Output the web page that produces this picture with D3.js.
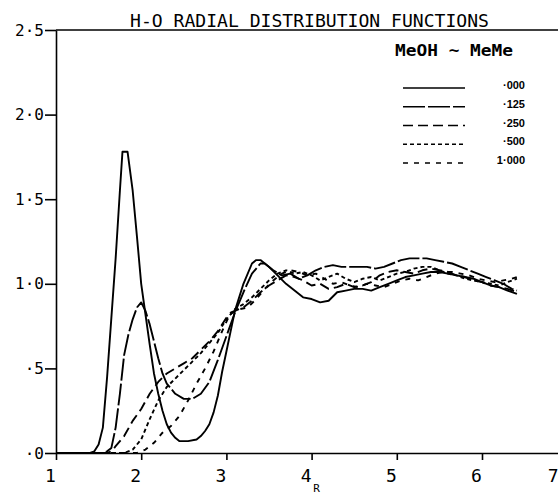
<!DOCTYPE html>
<html>
<head>
<meta charset="utf-8">
<script src="https://cdn.jsdelivr.net/npm/d3@7"></script>
<style>
  body { margin: 0; background: #fff; }
  svg { display: block; }
</style>
</head>
<body>
<svg width="558" height="495"></svg>
<script>
// tick labels (plotter style, raised dot)
const xTicks = [1, 2, 3, 4, 5, 6, 7];
const yTicks = [0, 0.5, 1.0, 1.5, 2.0, 2.5];
const yTickLabels = ["·0", "·5", "1·0", "1·5", "2·0", "2·5"];

// legend
const seriesNames = ["·000", "·125", "·250", "·500", "1·000"];

// g(r) for each MeMe fraction as [r, g]
const g000 = [
  [1.0, 0], [1.4, 0], [1.45, 0.01], [1.5, 0.05], [1.55, 0.15], [1.6, 0.45], [1.65, 0.8],
  [1.7, 1.15], [1.75, 1.55], [1.78, 1.78], [1.84, 1.78], [1.9, 1.55], [1.95, 1.28],
  [2.0, 1.0], [2.05, 0.82], [2.1, 0.64], [2.15, 0.47], [2.2, 0.35], [2.25, 0.25],
  [2.3, 0.17], [2.35, 0.12], [2.4, 0.09], [2.45, 0.07], [2.55, 0.07], [2.65, 0.08],
  [2.7, 0.1], [2.75, 0.13], [2.8, 0.17], [2.85, 0.24], [2.9, 0.34], [2.95, 0.48],
  [3.0, 0.6], [3.05, 0.72], [3.1, 0.84], [3.2, 1.0], [3.3, 1.12], [3.35, 1.14],
  [3.4, 1.14], [3.5, 1.1], [3.6, 1.05], [3.7, 1.0], [3.8, 0.96], [3.9, 0.92],
  [4.0, 0.91], [4.1, 0.89], [4.2, 0.9], [4.3, 0.95], [4.4, 0.96], [4.5, 0.97],
  [4.6, 0.97], [4.7, 0.96], [4.8, 0.98], [4.9, 1.0], [5.0, 1.02], [5.1, 1.04],
  [5.2, 1.05], [5.3, 1.06], [5.4, 1.07], [5.5, 1.07], [5.6, 1.06], [5.7, 1.05],
  [5.8, 1.04], [5.9, 1.03], [6.0, 1.01], [6.1, 0.99], [6.2, 0.98], [6.3, 0.96], [6.41, 0.94]
];
const g125 = [
  [1.0, 0], [1.55, 0], [1.6, 0.01], [1.65, 0.03], [1.7, 0.15], [1.75, 0.35], [1.8, 0.58],
  [1.85, 0.7], [1.9, 0.79], [1.95, 0.86], [2.0, 0.89], [2.05, 0.84], [2.1, 0.76],
  [2.15, 0.66], [2.2, 0.56], [2.25, 0.47], [2.3, 0.41], [2.4, 0.35], [2.5, 0.32],
  [2.6, 0.32], [2.7, 0.35], [2.8, 0.42], [2.9, 0.55], [3.0, 0.69], [3.1, 0.83],
  [3.2, 0.95], [3.3, 1.06], [3.4, 1.12], [3.45, 1.12], [3.55, 1.08], [3.65, 1.05],
  [3.75, 1.06], [3.85, 1.03], [3.95, 1.05], [4.05, 1.08], [4.15, 1.1], [4.25, 1.11],
  [4.35, 1.1], [4.45, 1.1], [4.55, 1.1], [4.65, 1.1], [4.75, 1.09], [4.85, 1.1],
  [4.95, 1.12], [5.05, 1.14], [5.15, 1.15], [5.25, 1.15], [5.35, 1.15], [5.45, 1.14],
  [5.55, 1.13], [5.65, 1.12], [5.75, 1.1], [5.85, 1.08], [5.95, 1.06], [6.05, 1.04],
  [6.15, 1.02], [6.25, 1.0], [6.35, 0.97], [6.41, 0.96]
];
const g250 = [
  [1.0, 0], [1.6, 0], [1.65, 0.01], [1.7, 0.04], [1.8, 0.1], [1.9, 0.19], [2.0, 0.26],
  [2.1, 0.35], [2.2, 0.42], [2.3, 0.47], [2.4, 0.5], [2.5, 0.53], [2.6, 0.56],
  [2.7, 0.61], [2.8, 0.66], [2.9, 0.72], [3.0, 0.8], [3.1, 0.84], [3.2, 0.86],
  [3.3, 0.9], [3.4, 0.95], [3.5, 0.99], [3.6, 1.02], [3.7, 1.05], [3.8, 1.04],
  [3.9, 1.02], [4.0, 0.99], [4.1, 1.0], [4.2, 0.97], [4.3, 0.98], [4.4, 1.0],
  [4.5, 0.98], [4.6, 0.99], [4.7, 1.01], [4.8, 1.05], [4.9, 1.07], [5.0, 1.08],
  [5.1, 1.07], [5.2, 1.06], [5.3, 1.08], [5.4, 1.09], [5.5, 1.08], [5.6, 1.07],
  [5.7, 1.05], [5.8, 1.04], [5.9, 1.02], [6.0, 1.01], [6.1, 0.99], [6.2, 0.98],
  [6.3, 0.97], [6.41, 0.95]
];
const g500 = [
  [1.0, 0], [1.8, 0], [1.9, 0.02], [2.0, 0.08], [2.1, 0.2], [2.2, 0.31], [2.3, 0.39],
  [2.4, 0.44], [2.5, 0.49], [2.6, 0.54], [2.7, 0.59], [2.8, 0.65], [2.9, 0.71],
  [3.0, 0.79], [3.1, 0.85], [3.2, 0.88], [3.3, 0.92], [3.4, 0.97], [3.5, 1.02],
  [3.6, 1.06], [3.7, 1.08], [3.8, 1.06], [3.9, 1.07], [4.0, 1.05], [4.1, 1.02],
  [4.2, 1.04], [4.3, 1.06], [4.4, 1.03], [4.5, 1.01], [4.6, 1.03], [4.7, 1.04],
  [4.8, 1.02], [4.9, 1.04], [5.0, 1.06], [5.1, 1.07], [5.2, 1.09], [5.3, 1.1],
  [5.4, 1.1], [5.5, 1.08], [5.6, 1.06], [5.7, 1.05], [5.8, 1.03], [5.9, 1.02],
  [6.0, 1.01], [6.1, 1.0], [6.2, 0.99], [6.3, 1.01], [6.41, 1.03]
];
const g1000 = [
  [1.0, 0], [1.95, 0], [2.05, 0.02], [2.15, 0.06], [2.25, 0.12], [2.35, 0.16],
  [2.45, 0.22], [2.55, 0.31], [2.65, 0.41], [2.75, 0.5], [2.85, 0.6], [2.95, 0.72],
  [3.05, 0.83], [3.15, 0.85], [3.25, 0.86], [3.35, 0.91], [3.45, 0.97], [3.55, 1.02],
  [3.65, 1.06], [3.75, 1.08], [3.85, 1.07], [3.95, 1.05], [4.05, 1.06], [4.15, 1.03],
  [4.25, 1.0], [4.35, 1.01], [4.45, 0.99], [4.55, 0.98], [4.65, 1.0], [4.75, 0.99],
  [4.85, 0.98], [4.95, 1.0], [5.05, 1.02], [5.15, 1.03], [5.25, 1.02], [5.35, 1.04],
  [5.45, 1.06], [5.55, 1.07], [5.65, 1.07], [5.75, 1.06], [5.85, 1.05], [5.95, 1.03],
  [6.05, 1.02], [6.15, 1.01], [6.25, 1.02], [6.35, 1.03], [6.41, 1.04]
];

const seriesData = [g000, g125, g250, g500, g1000];
const dashes = [null, "22,3", "10,5", "4,3", "5,6"];

const svg = d3.select("svg");
const mono = "'DejaVu Sans Mono', monospace";

const x = d3.scaleLinear().domain([1, 7]).range([56, 567.2]);
const y = d3.scaleLinear().domain([0, 2.5]).range([453, 30]);

// frame: top line
svg.append("line")
  .attr("x1", x(1)).attr("x2", 558)
  .attr("y1", y(2.5)).attr("y2", y(2.5))
  .attr("stroke", "#000").attr("stroke-width", 1.6);

// bottom axis
const xAxis = svg.append("g")
  .attr("transform", `translate(0,${y(0)})`)
  .call(d3.axisBottom(x).tickValues(xTicks).tickFormat(d3.format("d"))
    .tickSize(7).tickSizeOuter(0).tickPadding(9));
xAxis.selectAll("text")
  .attr("dx", -6)
  .style("font-family", mono).style("font-size", "18px").attr("fill", "#000");
// the 7 sits past the right edge; pull its label in so it stays readable
xAxis.selectAll(".tick text")
  .filter(d => x(d) > 558)
  .attr("text-anchor", "end")
  .attr("dx", 0)
  .attr("x", 558 - x(7));

// left axis
const yAxis = svg.append("g")
  .attr("transform", `translate(${x(1)},0)`)
  .call(d3.axisLeft(y).tickValues(yTicks).tickFormat((d, i) => yTickLabels[i])
    .tickSize(11).tickSizeOuter(0).tickPadding(1));
yAxis.selectAll("text")
  .style("font-family", mono).style("font-size", "16px").attr("fill", "#000");

svg.selectAll(".domain, .tick line")
  .attr("stroke", "#000").attr("stroke-width", 1.6);

// R label under the axis, tucked just right of the 4
svg.append("text")
  .attr("x", x(4) + 5).attr("y", 492)
  .attr("text-anchor", "middle")
  .style("font-family", mono).style("font-size", "11px")
  .text("R");

// title
svg.append("text")
  .attr("x", 130).attr("y", 27)
  .attr("textLength", 359).attr("lengthAdjust", "spacingAndGlyphs")
  .style("font-family", mono).style("font-size", "18px")
  .text("H-O RADIAL DISTRIBUTION FUNCTIONS");

// curves
const line = d3.line()
  .x(d => x(d[0]))
  .y(d => y(d[1]));

svg.append("g")
  .selectAll("path")
  .data(seriesData)
  .enter().append("path")
  .attr("d", line)
  .attr("fill", "none")
  .attr("stroke", "#000")
  .attr("stroke-width", 1.9)
  .attr("stroke-linejoin", "round")
  .attr("stroke-dasharray", (d, i) => dashes[i]);

// legend
svg.append("text")
  .attr("x", 395).attr("y", 56)
  .attr("textLength", 118).attr("lengthAdjust", "spacingAndGlyphs")
  .style("font-family", mono).style("font-size", "15px")
  .style("font-weight", "bold")
  .text("MeOH ~ MeMe");

const legendY = d3.scalePoint().domain(seriesNames).range([88, 163]);

const legend = svg.append("g")
  .selectAll("g")
  .data(seriesNames)
  .enter().append("g")
  .attr("transform", d => `translate(0,${legendY(d)})`);

legend.append("line")
  .attr("x1", 403).attr("x2", 465)
  .attr("stroke", "#000").attr("stroke-width", 1.6)
  .attr("stroke-dasharray", (d, i) => dashes[i]);

legend.append("text")
  .attr("x", 525).attr("y", 1)
  .attr("text-anchor", "end")
  .style("font-family", "'Liberation Sans', Arial, sans-serif")
  .style("font-size", "11px").style("font-weight", "bold")
  .text(d => d);
</script>
</body>
</html>
